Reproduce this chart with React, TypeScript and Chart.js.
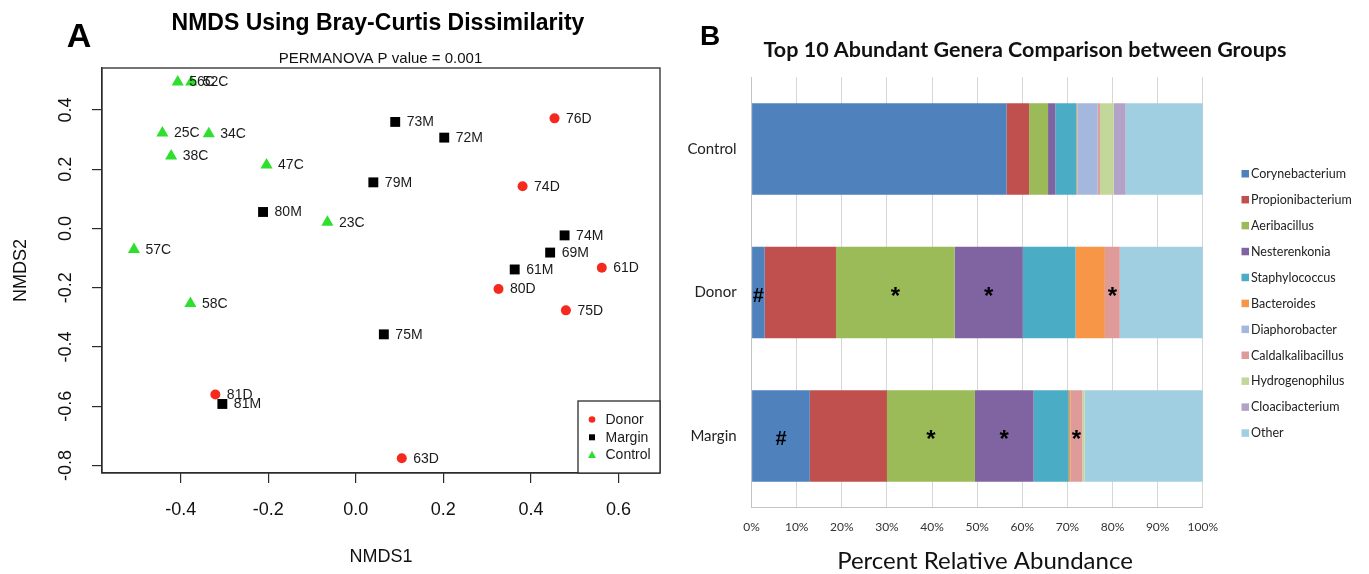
import React, { useEffect, useRef } from 'react';
import { Chart, registerables } from 'chart.js';

Chart.register(...registerables);

const SANS = '"Liberation Sans", Arial, Helvetica, sans-serif';
const XL = 'Lato, "Open Sans", sans-serif';

// ---------- Panel A: NMDS ordination ----------
const donorNames = ['76D', '74D', '61D', '80D', '75D', '81D', '63D'];
const donorX = [0.454, 0.381, 0.562, 0.326, 0.48, -0.321, 0.105];
const donorY = [0.372, 0.143, -0.132, -0.204, -0.276, -0.56, -0.775];

const marginNames = ['73M', '72M', '79M', '80M', '74M', '69M', '61M', '75M', '81M'];
const marginX = [0.09, 0.202, 0.04, -0.212, 0.477, 0.444, 0.363, 0.064, -0.305];
const marginY = [0.36, 0.307, 0.156, 0.056, -0.023, -0.081, -0.138, -0.357, -0.592];

const controlNames = ['56C', '52C', '25C', '34C', '38C', '47C', '23C', '57C', '58C'];
const controlX = [-0.407, -0.376, -0.442, -0.336, -0.422, -0.204, -0.065, -0.507, -0.378];
const controlY = [0.495, 0.495, 0.323, 0.32, 0.245, 0.215, 0.021, -0.071, -0.253];

const nmdsXTicks = [-0.4, -0.2, 0, 0.2, 0.4, 0.6];
const nmdsYTicks = [-0.8, -0.6, -0.4, -0.2, 0, 0.2, 0.4];
const nmdsLegendOrder = ['Donor', 'Margin', 'Control'];

// ---------- Panel B: top 10 genera ----------
const groups = ['Control', 'Donor', 'Margin'];
const genera = [
  'Corynebacterium', 'Propionibacterium', 'Aeribacillus', 'Nesterenkonia', 'Staphylococcus',
  'Bacteroides', 'Diaphorobacter', 'Caldalkalibacillus', 'Hydrogenophilus', 'Cloacibacterium', 'Other',
];
const controlPct = [56.5, 5.0, 4.2, 1.6, 4.7, 0.2, 4.5, 0.5, 3.1, 2.6, 17.1];
const donorPct = [2.9, 15.8, 26.3, 15.1, 11.7, 6.5, 0, 3.3, 0, 0, 18.4];
const marginPct = [12.9, 17.1, 19.5, 13.0, 7.8, 0.4, 0, 2.6, 0.5, 0, 26.2];
const genusColors = [
  '#4F81BD', '#C0504D', '#9BBB59', '#8064A2', '#4BACC6',
  '#F79646', '#A3B8DC', '#DE9B99', '#C4D79B', '#B3A2C7', '#9FCFE0',
];
const markGroups = ['Donor', 'Donor', 'Donor', 'Donor', 'Margin', 'Margin', 'Margin', 'Margin'];
const markGenera = ['Corynebacterium', 'Aeribacillus', 'Nesterenkonia', 'Caldalkalibacillus',
  'Corynebacterium', 'Aeribacillus', 'Nesterenkonia', 'Caldalkalibacillus'];
const markSymbols = ['#', '*', '*', '*', '#', '*', '*', '*'];

const toPoints = (xs: number[], ys: number[]) => xs.map((x, i) => ({ x, y: ys[i] }));

// canvas B starts at this page x
const B_LEFT = 670;

function drawMarker(ctx: CanvasRenderingContext2D, style: string, x: number, y: number, r: number, color: string) {
  ctx.fillStyle = color;
  ctx.beginPath();
  if (style === 'circle') {
    ctx.arc(x, y, r, 0, Math.PI * 2);
  } else if (style === 'rect') {
    ctx.rect(x - r, y - r, 2 * r, 2 * r);
  } else {
    ctx.moveTo(x, y - r * 1.1);
    ctx.lineTo(x + r, y + r * 0.7);
    ctx.lineTo(x - r, y + r * 0.7);
    ctx.closePath();
  }
  ctx.fill();
}

const nmdsDecor = {
  id: 'nmdsDecor',
  beforeDraw(chart: any) {
    const ctx = chart.ctx;
    ctx.save();
    ctx.fillStyle = '#fff';
    ctx.fillRect(0, 0, chart.width, chart.height);
    ctx.restore();
  },
  afterDatasetsDraw(chart: any) {
    const ctx = chart.ctx as CanvasRenderingContext2D;
    const ca = chart.chartArea;
    ctx.save();
    // point labels
    ctx.font = `14px ${SANS}`;
    ctx.fillStyle = '#1a1a1a';
    ctx.textBaseline = 'middle';
    ctx.textAlign = 'left';
    chart.data.datasets.forEach((ds: any, di: number) => {
      const meta = chart.getDatasetMeta(di);
      meta.data.forEach((el: any, i: number) => {
        ctx.fillText(ds.names[i], el.x + 11.5, el.y + 0.5);
      });
    });
    // box
    ctx.strokeStyle = '#2b2b2b';
    ctx.lineWidth = 1.3;
    ctx.strokeRect(ca.left, ca.top, ca.right - ca.left, ca.bottom - ca.top);
    // legend
    const lw = 82, lh = 72;
    const lx = ca.right - lw, ly = ca.bottom - lh;
    ctx.fillStyle = '#fff';
    ctx.fillRect(lx, ly, lw, lh);
    ctx.strokeRect(lx, ly, lw, lh);
    nmdsLegendOrder.forEach((name, i) => {
      const ds = chart.data.datasets.find((d: any) => d.label === name);
      const yy = ly + 18.5 + i * 17.8;
      const style = ds.pointStyle;
      drawMarker(ctx, style, lx + 14, yy, style === 'circle' ? 3.3 : style === 'rect' ? 3 : 4, ds.backgroundColor);
      ctx.fillStyle = '#1a1a1a';
      ctx.font = `14px ${SANS}`;
      ctx.textAlign = 'left';
      ctx.textBaseline = 'middle';
      ctx.fillText(name, lx + 27.5, yy + 0.5);
    });
    // panel letter + titles
    ctx.fillStyle = '#000';
    ctx.textAlign = 'center';
    ctx.textBaseline = 'alphabetic';
    ctx.font = `bold 34px ${SANS}`;
    ctx.fillText('A', 79, 46.5);
    ctx.font = `bold 23px ${SANS}`;
    ctx.fillText('NMDS Using Bray-Curtis Dissimilarity', 378, 29.5, 422);
    ctx.font = `15px ${SANS}`;
    ctx.fillStyle = '#111';
    ctx.fillText('PERMANOVA P value = 0.001', 380.5, 63);
    ctx.restore();
  },
};

const barDecor = {
  id: 'barDecor',
  beforeDraw(chart: any) {
    const ctx = chart.ctx;
    ctx.save();
    ctx.fillStyle = '#fff';
    ctx.fillRect(0, 0, chart.width, chart.height);
    ctx.restore();
  },
  afterDatasetsDraw(chart: any) {
    const ctx = chart.ctx as CanvasRenderingContext2D;
    ctx.save();
    // significance marks at segment centers
    markSymbols.forEach((sym, k) => {
      const di = genera.indexOf(markGenera[k]);
      const idx = groups.indexOf(markGroups[k]);
      const el: any = chart.getDatasetMeta(di).data[idx];
      const cx = (el.x + el.base) / 2;
      ctx.fillStyle = '#000';
      ctx.textAlign = 'center';
      ctx.textBaseline = 'middle';
      if (sym === '#') {
        ctx.font = `bold 20px ${SANS}`;
        ctx.fillText(sym, cx, el.y + 4);
      } else {
        ctx.font = `bold 24px ${SANS}`;
        ctx.fillText(sym, cx, el.y + 4.5);
      }
    });
    // legend
    const ox = -B_LEFT;
    chart.data.datasets.forEach((ds: any, i: number) => {
      const yy = 174 + i * 25.93;
      ctx.fillStyle = ds.backgroundColor;
      ctx.fillRect(1241.5 + ox, yy - 4, 7.5, 7.5);
      ctx.fillStyle = '#222';
      ctx.font = `12.5px ${XL}`;
      ctx.textAlign = 'left';
      ctx.textBaseline = 'middle';
      ctx.fillText(ds.label, 1251 + ox, yy);
    });
    // panel letter, title, axis title
    ctx.fillStyle = '#000';
    ctx.textAlign = 'center';
    ctx.textBaseline = 'alphabetic';
    ctx.font = `bold 28px ${SANS}`;
    ctx.fillText('B', 710 + ox, 45);
    ctx.fillStyle = '#111';
    ctx.font = `bold 21.5px ${XL}`;
    ctx.fillText('Top 10 Abundant Genera Comparison between Groups', 1025 + ox, 57, 524);
    ctx.font = `24px ${XL}`;
    ctx.fillText('Percent Relative Abundance', 985 + ox, 569, 296);
    ctx.restore();
  },
};

export default function App() {
  const aRef = useRef<HTMLCanvasElement | null>(null);
  const bRef = useRef<HTMLCanvasElement | null>(null);

  useEffect(() => {
    const chartA = new Chart(aRef.current as HTMLCanvasElement, {
      type: 'scatter',
      data: {
        datasets: [
          {
            label: 'Margin', data: toPoints(marginX, marginY), names: marginNames,
            pointStyle: 'rect', pointRadius: 7, backgroundColor: '#000', borderWidth: 0,
          } as any,
          {
            label: 'Donor', data: toPoints(donorX, donorY), names: donorNames,
            pointStyle: 'circle', pointRadius: 5, backgroundColor: '#F52A1E', borderWidth: 0,
          } as any,
          {
            label: 'Control', data: toPoints(controlX, controlY), names: controlNames,
            pointStyle: 'triangle', pointRadius: 7, backgroundColor: '#2EE02E', borderWidth: 0,
          } as any,
        ],
      },
      options: {
        responsive: false,
        animation: false,
        events: [],
        layout: { padding: { top: 68, right: B_LEFT - 660, left: 0, bottom: 0 } },
        plugins: { legend: { display: false }, tooltip: { enabled: false } },
        scales: {
          x: {
            type: 'linear', min: -0.58, max: 0.695,
            afterBuildTicks: (s: any) => { s.ticks = nmdsXTicks.map((v) => ({ value: v })); },
            afterFit: (s: any) => { s.height = 101; },
            ticks: {
              font: { family: SANS, size: 18 }, color: '#111', padding: 16,
              callback: (v: any) => Number(v).toFixed(1),
            },
            grid: { drawOnChartArea: false, tickLength: 10, color: '#2b2b2b', lineWidth: 1.2 },
            border: { display: true, color: '#2b2b2b', width: 1.2 },
            title: { display: true, text: 'NMDS1', font: { family: SANS, size: 18 }, color: '#111', padding: { top: 0, bottom: 6.5 } },
          },
          y: {
            type: 'linear', min: -0.825, max: 0.542,
            afterBuildTicks: (s: any) => { s.ticks = nmdsYTicks.map((v) => ({ value: v })); },
            afterFit: (s: any) => { s.width = 102; },
            ticks: {
              font: { family: SANS, size: 18 }, color: '#111', padding: 10,
              minRotation: 90, maxRotation: 90, crossAlign: 'center',
              callback: (v: any) => Number(v).toFixed(1),
            },
            grid: { drawOnChartArea: false, tickLength: 10, color: '#2b2b2b', lineWidth: 1.2 },
            border: { display: true, color: '#2b2b2b', width: 1.2 },
            title: { display: true, text: 'NMDS2', font: { family: SANS, size: 18 }, color: '#111', padding: { top: 10, bottom: 0 } },
          },
        },
      } as any,
      plugins: [nmdsDecor],
    });

    const chartB = new Chart(bRef.current as HTMLCanvasElement, {
      type: 'bar',
      data: {
        labels: groups,
        datasets: genera.map((g, i) => ({
          label: g,
          data: [controlPct[i], donorPct[i], marginPct[i]],
          backgroundColor: genusColors[i],
          borderWidth: 0,
          categoryPercentage: 1,
          barPercentage: 0.637,
        })),
      },
      options: {
        indexAxis: 'y',
        responsive: false,
        animation: false,
        events: [],
        layout: { padding: { top: 77.3, right: 166.2, left: 0, bottom: 0 } },
        plugins: { legend: { display: false }, tooltip: { enabled: false } },
        scales: {
          x: {
            stacked: true, min: 0, max: 100,
            afterFit: (s: any) => { s.height = 66.3; },
            ticks: {
              stepSize: 10, font: { family: XL, size: 12 }, color: '#333', padding: 12,
              callback: (v: any) => `${v}%`,
            },
            grid: { color: '#D6D6D6', lineWidth: 1, drawTicks: false },
            border: { display: true, color: '#C4C4C4', width: 1 },
          },
          y: {
            stacked: true,
            afterFit: (s: any) => { s.width = 751.6 - B_LEFT; },
            ticks: { font: { family: XL, size: 15 }, color: '#222', padding: 15 },
            grid: { display: false, drawTicks: false },
            border: { display: true, color: '#C4C4C4', width: 1 },
          },
        },
      } as any,
      plugins: [barDecor],
    });

    return () => {
      chartA.destroy();
      chartB.destroy();
    };
  }, []);

  return (
    <div style={{ position: 'absolute', left: 0, top: 0, width: 1369, height: 574, background: '#fff' }}>
      <canvas ref={aRef} width={B_LEFT} height={574}
        style={{ position: 'absolute', left: 0, top: 0, width: B_LEFT, height: 574 }} />
      <canvas ref={bRef} width={1369 - B_LEFT} height={574}
        style={{ position: 'absolute', left: B_LEFT, top: 0, width: 1369 - B_LEFT, height: 574 }} />
    </div>
  );
}
